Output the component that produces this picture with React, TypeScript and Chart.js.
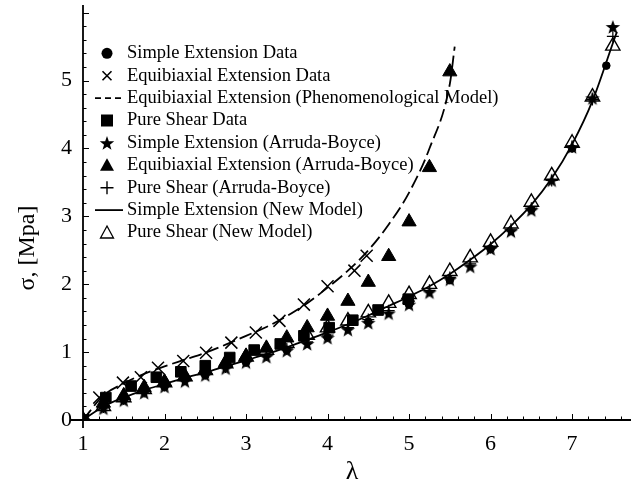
import React, { useEffect, useRef } from "react";
import { Chart, registerables } from "chart.js";

Chart.register(...registerables);

const SERIF = '"Liberation Serif", "Times New Roman", Times, serif';

// Axis ranges and ticks
const X_MIN = 1;
const X_MAX = 7.6;
const Y_MIN = 0;
const Y_MAX = 6.04;
const xTickLabels = [1, 2, 3, 4, 5, 6, 7];
const yTickLabels = [0, 1, 2, 3, 4, 5];
const X_TITLE = "λ";
const Y_TITLE = "σ, [Mpa]";

const legendLabels = [
  "Simple Extension Data",
  "Equibiaxial Extension Data",
  "Equibiaxial Extension (Phenomenological Model)",
  "Pure Shear Data",
  "Simple Extension (Arruda-Boyce)",
  "Equibiaxial Extension (Arruda-Boyce)",
  "Pure Shear (Arruda-Boyce)",
  "Simple Extension (New Model)",
  "Pure Shear (New Model)",
];

// Simple extension data (filled circles)
const simpleExtDataLambda = [1, 1.5, 2, 2.5, 3, 3.5, 4, 4.5, 5, 5.5, 6, 6.5, 7, 7.42];
const simpleExtDataSigma = [0, 0.3, 0.49, 0.66, 0.85, 1.03, 1.22, 1.45, 1.7, 2.06, 2.52, 3.1, 4.0, 5.22];

// Equibiaxial extension data (crosses)
const equiDataLambda = [1, 1.2, 1.49, 1.71, 1.92, 2.23, 2.51, 2.82, 3.12, 3.41, 3.71, 4.0, 4.33, 4.48];
const equiDataSigma = [0, 0.33, 0.55, 0.63, 0.77, 0.87, 0.99, 1.14, 1.29, 1.46, 1.7, 1.97, 2.2, 2.42];

// Equibiaxial phenomenological model (dashed)
const equiPhenLambda = [1, 1.25, 1.5, 1.75, 2, 2.25, 2.5, 2.75, 3, 3.25, 3.5, 3.75, 4, 4.25, 4.5, 4.75, 5, 5.25, 5.5, 5.56];
const equiPhenSigma = [0, 0.36, 0.54, 0.68, 0.79, 0.89, 0.99, 1.11, 1.24, 1.37, 1.53, 1.72, 1.95, 2.2, 2.5, 2.88, 3.35, 4.0, 4.95, 5.5];

// Pure shear data (filled squares)
const shearDataLambda = [1, 1.28, 1.59, 1.9, 2.2, 2.5, 2.8, 3.1, 3.42, 3.71, 4.02, 4.31, 4.62, 4.99];
const shearDataSigma = [0, 0.33, 0.5, 0.63, 0.71, 0.8, 0.92, 1.03, 1.12, 1.24, 1.36, 1.47, 1.62, 1.78];

// Model stretch values
const modelLambda = [1, 1.25, 1.5, 1.75, 2, 2.25, 2.5, 2.75, 3, 3.25, 3.5, 3.75, 4, 4.25, 4.5, 4.75, 5, 5.25, 5.5, 5.75, 6, 6.25, 6.5, 6.75, 7, 7.25, 7.5];

// Simple extension (Arruda-Boyce) stars
const simpleABSigma = [0, 0.17, 0.29, 0.4, 0.49, 0.57, 0.66, 0.76, 0.85, 0.93, 1.02, 1.12, 1.21, 1.33, 1.43, 1.57, 1.7, 1.88, 2.07, 2.26, 2.52, 2.78, 3.09, 3.53, 4.02, 4.74, 5.79];

// Equibiaxial extension (Arruda-Boyce) filled triangles
const equiABLambda = [1, 1.25, 1.5, 1.75, 2, 2.25, 2.5, 2.75, 3, 3.25, 3.5, 3.75, 4, 4.25, 4.5, 4.75, 5, 5.25, 5.5];
const equiABSigma = [0, 0.25, 0.36, 0.48, 0.56, 0.64, 0.74, 0.85, 0.94, 1.06, 1.21, 1.36, 1.53, 1.75, 2.03, 2.41, 2.92, 3.72, 5.13];

// Pure shear (Arruda-Boyce) plus signs
const shearABSigma = [0, 0.19, 0.31, 0.42, 0.51, 0.6, 0.69, 0.78, 0.87, 0.96, 1.05, 1.15, 1.25, 1.36, 1.48, 1.61, 1.75, 1.91, 2.1, 2.3, 2.54, 2.81, 3.12, 3.53, 4.03, 4.72, 5.65];

// Simple extension (New Model) solid line
const simpleNewLambda = [1, 1.25, 1.5, 1.75, 2, 2.25, 2.5, 2.75, 3, 3.25, 3.5, 3.75, 4, 4.25, 4.5, 4.75, 5, 5.25, 5.5, 5.75, 6, 6.25, 6.5, 6.75, 7, 7.25, 7.5, 7.55];
const simpleNewSigma = [0, 0.2, 0.33, 0.44, 0.53, 0.62, 0.7, 0.79, 0.88, 0.97, 1.07, 1.18, 1.29, 1.41, 1.54, 1.68, 1.82, 1.97, 2.15, 2.36, 2.59, 2.86, 3.17, 3.56, 4.06, 4.7, 5.55, 5.72];

// Pure shear (New Model) open triangles
const shearNewSigma = [0, 0.2, 0.33, 0.45, 0.55, 0.64, 0.73, 0.83, 0.93, 1.03, 1.13, 1.25, 1.36, 1.46, 1.58, 1.72, 1.85, 2.0, 2.19, 2.39, 2.62, 2.89, 3.21, 3.6, 4.08, 4.76, 5.51];

const pts = (xs: number[], ys: number[]) => xs.map((x, i) => ({ x, y: ys[i] }));

function drawStarPath(ctx: CanvasRenderingContext2D, cx: number, cy: number, ro: number, ri: number) {
  ctx.beginPath();
  for (let i = 0; i < 10; i++) {
    const r = i % 2 === 0 ? ro : ri;
    const a = -Math.PI / 2 + (i * Math.PI) / 5;
    const px = cx + r * Math.cos(a);
    const py = cy + r * Math.sin(a);
    if (i === 0) ctx.moveTo(px, py);
    else ctx.lineTo(px, py);
  }
  ctx.closePath();
}

function makeStar(): HTMLCanvasElement {
  const c = document.createElement("canvas");
  c.width = 16;
  c.height = 16;
  const g = c.getContext("2d")!;
  g.fillStyle = "#000";
  drawStarPath(g, 8, 8.6, 7.6, 3.1);
  g.fill();
  return c;
}

const zeroPad = (s: any) => {
  s.paddingTop = 0;
  s.paddingBottom = 0;
  s.paddingLeft = 0;
  s.paddingRight = 0;
};

export default function App() {
  const ref = useRef<HTMLCanvasElement | null>(null);

  useEffect(() => {
    if (!ref.current) return;
    const star = makeStar();

    const overlay = {
      id: "overlay",
      afterDraw(chart: any) {
        const ctx: CanvasRenderingContext2D = chart.ctx;
        const xs = chart.scales.x;
        const ys = chart.scales.y;
        const x0 = xs.getPixelForValue(X_MIN);
        const y0 = ys.getPixelForValue(0);
        const yTop = 5;
        ctx.save();
        ctx.strokeStyle = "#000";
        ctx.fillStyle = "#000";
        // axes
        ctx.lineWidth = 1.8;
        ctx.beginPath();
        ctx.moveTo(x0 - 12, y0);
        ctx.lineTo(chart.width, y0);
        ctx.stroke();
        ctx.beginPath();
        ctx.moveTo(x0, yTop);
        ctx.lineTo(x0, y0 + 8);
        ctx.stroke();
        // ticks
        ctx.lineWidth = 1;
        for (let i = 0; ; i++) {
          const v = X_MIN + i * 0.2;
          const px = Math.round(xs.getPixelForValue(v)) + 0.5;
          if (px > chart.width) break;
          const major = Math.abs(v - Math.round(v)) < 1e-6;
          ctx.beginPath();
          ctx.moveTo(px, y0);
          ctx.lineTo(px, y0 - (major ? 6 : 3.5));
          ctx.stroke();
        }
        for (let i = 0; ; i++) {
          const v = Y_MIN + i * 0.2;
          const py = Math.round(ys.getPixelForValue(v)) + 0.5;
          if (py < yTop) break;
          const major = Math.abs(v - Math.round(v)) < 1e-6;
          ctx.beginPath();
          ctx.moveTo(x0, py);
          ctx.lineTo(x0 + (major ? 6 : 3.5), py);
          ctx.stroke();
        }
        // y title
        ctx.save();
        ctx.translate(28, 248);
        ctx.rotate(-Math.PI / 2);
        ctx.font = `24px ${SERIF}`;
        ctx.textAlign = "center";
        ctx.textBaseline = "middle";
        ctx.fillText(Y_TITLE, 0, 0);
        ctx.restore();

        // legend
        const lx = 107;
        const tx = 127;
        const ly0 = 53.3;
        const dy = 22.4;
        ctx.font = `18.5px ${SERIF}`;
        ctx.textBaseline = "middle";
        ctx.textAlign = "left";
        legendLabels.forEach((label, i) => {
          const y = ly0 + i * dy;
          ctx.fillStyle = "#000";
          ctx.strokeStyle = "#000";
          ctx.setLineDash([]);
          switch (i) {
            case 0:
              ctx.beginPath();
              ctx.arc(lx, y, 5.5, 0, Math.PI * 2);
              ctx.fill();
              break;
            case 1:
              ctx.lineWidth = 1.6;
              ctx.beginPath();
              ctx.moveTo(lx - 4.5, y - 4.5);
              ctx.lineTo(lx + 4.5, y + 4.5);
              ctx.moveTo(lx + 4.5, y - 4.5);
              ctx.lineTo(lx - 4.5, y + 4.5);
              ctx.stroke();
              break;
            case 2:
              ctx.lineWidth = 1.6;
              ctx.setLineDash([6, 4]);
              ctx.beginPath();
              ctx.moveTo(95, y);
              ctx.lineTo(124, y);
              ctx.stroke();
              ctx.setLineDash([]);
              break;
            case 3:
              ctx.fillRect(lx - 6, y - 6, 12, 12);
              break;
            case 4:
              drawStarPath(ctx, lx, y + 0.8, 7.6, 3.1);
              ctx.fill();
              break;
            case 5:
              ctx.beginPath();
              ctx.moveTo(lx, y - 7);
              ctx.lineTo(lx + 7, y + 5.5);
              ctx.lineTo(lx - 7, y + 5.5);
              ctx.closePath();
              ctx.fill();
              break;
            case 6:
              ctx.lineWidth = 1.4;
              ctx.beginPath();
              ctx.moveTo(lx - 6.5, y);
              ctx.lineTo(lx + 6.5, y);
              ctx.moveTo(lx, y - 6.5);
              ctx.lineTo(lx, y + 6.5);
              ctx.stroke();
              break;
            case 7:
              ctx.lineWidth = 1.8;
              ctx.beginPath();
              ctx.moveTo(95, y);
              ctx.lineTo(123, y);
              ctx.stroke();
              break;
            case 8:
              ctx.lineWidth = 1.3;
              ctx.beginPath();
              ctx.moveTo(lx, y - 6.5);
              ctx.lineTo(lx + 6.5, y + 5.5);
              ctx.lineTo(lx - 6.5, y + 5.5);
              ctx.closePath();
              ctx.stroke();
              break;
          }
          ctx.fillStyle = "#000";
          ctx.fillText(label, tx, y);
        });
        ctx.restore();
      },
    };

    const chart = new Chart(ref.current, {
      type: "scatter",
      data: {
        datasets: [
          {
            label: legendLabels[2],
            data: pts(equiPhenLambda, equiPhenSigma),
            showLine: true,
            borderColor: "#000",
            borderWidth: 1.8,
            borderDash: [13, 5],
            pointRadius: 0,
            cubicInterpolationMode: "monotone",
            order: 20,
          },
          {
            label: legendLabels[7],
            data: pts(simpleNewLambda, simpleNewSigma),
            showLine: true,
            borderColor: "#000",
            borderWidth: 1.8,
            pointRadius: 0,
            cubicInterpolationMode: "monotone",
            order: 19,
          },
          {
            label: legendLabels[8],
            data: pts(modelLambda, shearNewSigma),
            pointStyle: "triangle",
            pointRadius: 8.3,
            pointBorderWidth: 1.4,
            borderColor: "#000",
            backgroundColor: "rgba(255,255,255,0)",
            order: 18,
          },
          {
            label: legendLabels[0],
            data: pts(simpleExtDataLambda, simpleExtDataSigma),
            pointStyle: "circle",
            pointRadius: 3.8,
            borderColor: "#000",
            backgroundColor: "#000",
            order: 17,
          },
          {
            label: legendLabels[4],
            data: pts(modelLambda, simpleABSigma),
            pointStyle: star as any,
            order: 16,
          },
          {
            label: legendLabels[6],
            data: pts(modelLambda, shearABSigma),
            pointStyle: "cross",
            pointRadius: 6,
            pointBorderWidth: 1.2,
            borderColor: "#000",
            order: 15,
          },
          {
            label: legendLabels[3],
            data: pts(shearDataLambda, shearDataSigma),
            pointStyle: "rect",
            pointRadius: 7.5,
            borderColor: "#000",
            backgroundColor: "#000",
            order: 14,
          },
          {
            label: legendLabels[5],
            data: pts(equiABLambda, equiABSigma),
            pointStyle: "triangle",
            pointRadius: 8.2,
            borderColor: "#000",
            backgroundColor: "#000",
            order: 13,
          },
          {
            label: legendLabels[1],
            data: pts(equiDataLambda, equiDataSigma),
            pointStyle: "crossRot",
            pointRadius: 8.5,
            pointBorderWidth: 1.5,
            borderColor: "#000",
            order: 12,
          },
        ] as any,
      },
      options: {
        animation: false,
        responsive: false,
        maintainAspectRatio: false,
        layout: { padding: { top: 5, right: 0, left: 0, bottom: 0 } },
        plugins: { legend: { display: false }, tooltip: { enabled: false } },
        elements: { line: { tension: 0 } },
        scales: {
          x: {
            type: "linear",
            min: X_MIN,
            max: X_MAX,
            grid: { display: false, drawTicks: false },
            border: { display: false },
            afterBuildTicks: (s: any) => {
              s.ticks = xTickLabels.map((v) => ({ value: v }));
            },
            ticks: {
              color: "#000",
              padding: 11,
              font: { family: SERIF, size: 22 },
            },
            title: {
              display: true,
              text: X_TITLE,
              color: "#000",
              font: { family: SERIF, size: 26 },
              padding: { top: 0, bottom: 0 },
            },
            afterFit: (s: any) => {
              s.height = 68;
              zeroPad(s);
            },
          },
          y: {
            type: "linear",
            min: Y_MIN,
            max: Y_MAX,
            grid: { display: false, drawTicks: false },
            border: { display: false },
            afterBuildTicks: (s: any) => {
              s.ticks = yTickLabels.map((v) => ({ value: v }));
            },
            ticks: {
              color: "#000",
              padding: 11,
              font: { family: SERIF, size: 22 },
            },
            afterFit: (s: any) => {
              s.width = 83;
              zeroPad(s);
            },
          },
        },
      } as any,
      plugins: [overlay],
    });

    return () => chart.destroy();
  }, []);

  return (
    <div style={{ position: "absolute", left: 0, top: 0, width: 631, height: 488, background: "#fff" }}>
      <canvas ref={ref} width={631} height={488} style={{ display: "block", width: 631, height: 488 }} />
    </div>
  );
}
